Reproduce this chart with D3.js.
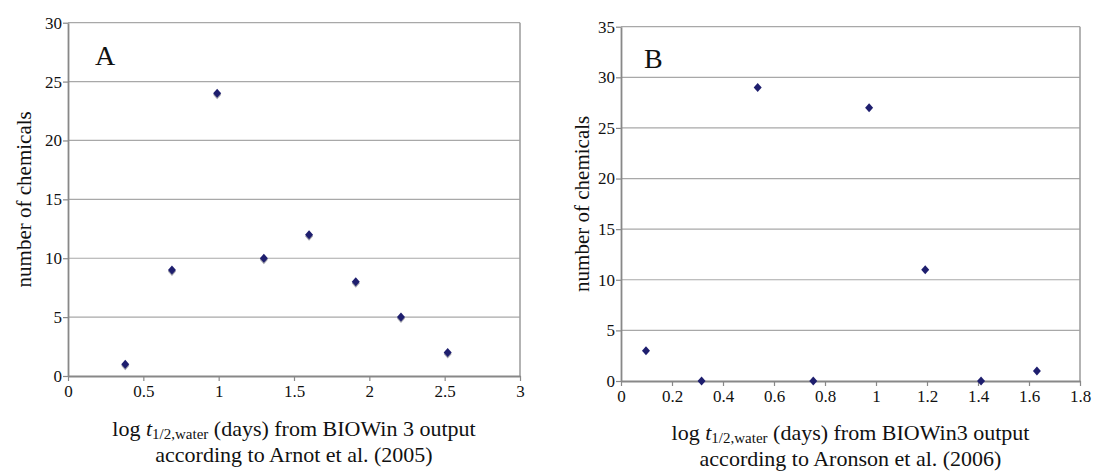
<!DOCTYPE html>
<html><head><meta charset="utf-8">
<script src="https://cdn.jsdelivr.net/npm/d3@7"></script>
<style>
html,body{margin:0;padding:0;background:#fff;}
svg{display:block;}
svg text{font-family:"Liberation Serif","Tinos","Times New Roman","Nimbus Roman","DejaVu Serif",serif !important;fill:#111;}
</style></head>
<body><svg id="c" width="1098" height="472"></svg>
<script>
// Panel A data
const xA = [0.38, 0.69, 0.99, 1.3, 1.6, 1.91, 2.21, 2.52];
const yA = [1, 9, 24, 10, 12, 8, 5, 2];
const xTicksA = [0, 0.5, 1, 1.5, 2, 2.5, 3];
const yTicksA = [0, 5, 10, 15, 20, 25, 30];
const captionA = ["according to Arnot et al. (2005)"];
const subjA = " (days) from BIOWin 3 output";

// Panel B data
const xB = [0.098, 0.316, 0.536, 0.754, 0.973, 1.193, 1.412, 1.631];
const yB = [3, 0, 29, 0, 27, 11, 0, 1];
const xTicksB = [0, 0.2, 0.4, 0.6, 0.8, 1, 1.2, 1.4, 1.6, 1.8];
const yTicksB = [0, 5, 10, 15, 20, 25, 30, 35];
const captionB = ["according to Aronson et al. (2006)"];
const subjB = " (days) from BIOWin3 output";

const FONT = '"Liberation Serif", "Tinos", "Times New Roman", serif';
const svg = d3.select("#c");

function panel(o) {
  const g = svg.append("g").attr("font-family", FONT);
  const x = d3.scaleLinear().domain(o.xdom).range([o.left, o.right]);
  const y = d3.scaleLinear().domain(o.ydom).range([o.bottom, o.top]);
  // gridlines
  g.selectAll("line.grid").data(o.yt.filter(v => v > o.ydom[0])).enter().append("line")
    .attr("x1", o.left).attr("x2", o.right)
    .attr("y1", d => y(d)).attr("y2", d => y(d))
    .attr("stroke", "#a8a8a8").attr("stroke-width", 1.2);
  // right border
  g.append("line").attr("x1", o.right).attr("x2", o.right).attr("y1", o.top).attr("y2", o.bottom)
    .attr("stroke", "#a0a0a0").attr("stroke-width", 1.6);
  // axes
  const fmt = d => String(d);
  const ax = g.append("g").attr("transform", `translate(0,${o.bottom})`)
    .call(d3.axisBottom(x).tickValues(o.xt).tickFormat(fmt).tickSize(5).tickSizeOuter(0));
  const ay = g.append("g").attr("transform", `translate(${o.left},0)`)
    .call(d3.axisLeft(y).tickValues(o.yt).tickFormat(fmt).tickSize(5).tickSizeOuter(0));
  [ax, ay].forEach(a => {
    a.attr("font-family", FONT).attr("font-size", 17);
    a.select(".domain").attr("stroke", "#888").attr("stroke-width", 1.8);
    a.selectAll(".tick line").attr("stroke", "#888").attr("stroke-width", 1.2);
    a.selectAll("text").attr("fill", "#111");
  });
  ax.selectAll("text").attr("dy", "0.9em").attr("y", 6);
  ay.selectAll("text").attr("x", -6).attr("dy", "0.32em");
  // markers (diamonds)
  const dia = "M0,-4.5L4,0L0,4.5L-4,0Z";
  const pts = o.xs.map((v, i) => [v, o.ys[i]]);
  if (o.shadow) {
    g.selectAll("path.sh").data(pts).enter().append("path")
      .attr("d", dia).attr("transform", d => `translate(${x(d[0])},${y(d[1]) + 1.5})`)
      .attr("fill", "#a0a0aa");
  }
  g.selectAll("path.pt").data(pts).enter().append("path")
    .attr("d", dia).attr("transform", d => `translate(${x(d[0])},${y(d[1])})`)
    .attr("fill", "#1e1e6e");
  // panel letter
  g.append("text").attr("x", o.letterX).attr("y", o.letterY).attr("font-size", 28).text(o.letter);
  // y title
  const cy = (o.top + o.bottom) / 2;
  g.append("text").attr("transform", `translate(${o.ylabX},${cy}) rotate(-90)`)
    .attr("text-anchor", "middle").attr("font-size", 21).text("number of chemicals");
  // x title
  const cx = (o.left + o.right) / 2;
  const t1 = g.append("text").attr("x", cx).attr("y", o.bottom + o.t1off).attr("text-anchor", "middle").attr("font-size", 22);
  t1.append("tspan").text("log ");
  t1.append("tspan").attr("font-style", "italic").text("t");
  t1.append("tspan").attr("dy", 3).attr("font-size", 15).text("1/2,water");
  t1.append("tspan").attr("dy", -3).text(o.subj);
  g.append("text").attr("x", cx).attr("y", o.bottom + o.t1off + 26).attr("text-anchor", "middle").attr("font-size", 22).text(o.cap[0]);
}

panel({left: 68, right: 520, top: 22.7, bottom: 376, xdom: [0, 3], ydom: [0, 30],
  xt: xTicksA, yt: yTicksA, xs: xA, ys: yA, shadow: true, letter: "A", letterX: 95, letterY: 65,
  ylabX: 31, subj: subjA, cap: captionA, t1off: 60});
panel({left: 621, right: 1080, top: 26.7, bottom: 381, xdom: [0, 1.8], ydom: [0, 35],
  xt: xTicksB, yt: yTicksB, xs: xB, ys: yB, shadow: false, letter: "B", letterX: 644, letterY: 68,
  ylabX: 589, subj: subjB, cap: captionB, t1off: 59});
</script></body></html>
